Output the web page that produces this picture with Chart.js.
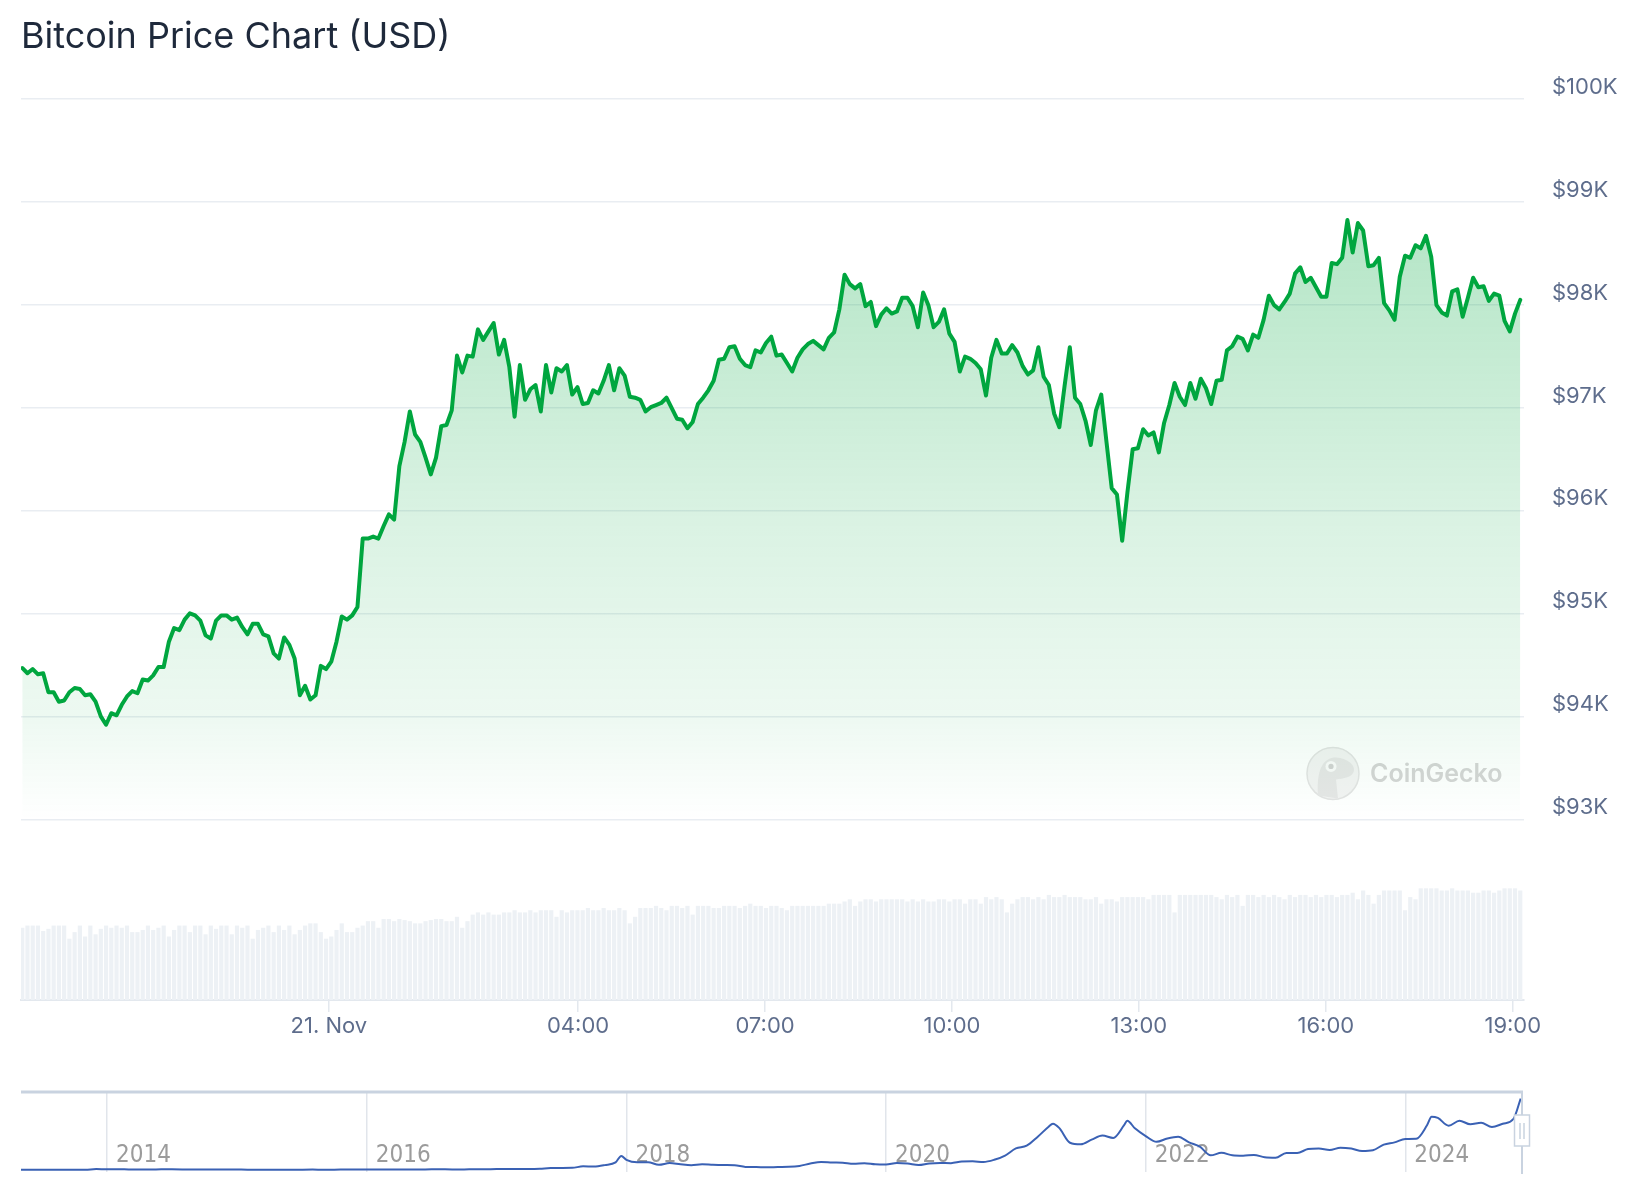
<!DOCTYPE html>
<html>
<head>
<meta charset="utf-8">
<title>Bitcoin Price Chart (USD)</title>
<script src="https://cdn.jsdelivr.net/npm/chart.js@4.4.1/dist/chart.umd.min.js"></script>
<style>
  html, body { margin: 0; padding: 0; background: #fff; }
  body { width: 1644px; height: 1200px; position: relative; overflow: hidden; font-family: Inter, 'Noto Sans', sans-serif; }
  h1 { position: absolute; left: 21px; top: 17px; margin: 0; font-size: 36px; line-height: 36px; font-weight: 400; color: #1e293b; z-index: 2; }
  #priceWrap { position: absolute; left: 0; top: 0; width: 1644px; height: 1075px; }
  #navWrap { position: absolute; left: 0; top: 1072px; width: 1644px; height: 125px; }
</style>
</head>
<body>
<h1>Bitcoin Price Chart (USD)</h1>
<div id="priceWrap"><canvas id="priceChart"></canvas></div>
<div id="navWrap"><canvas id="navChart"></canvas></div>
<script>
// 24h window, hours relative to 21 Nov 00:00
const FIRST_HOUR = -4.92;
const LAST_HOUR = 19.12;

const prices = [
  94474,94423,94464,94413,94423,94239,94239,94147,94158,94239,
  94280,94270,94209,94219,94147,94004,93923,94035,94015,94117,
  94198,94250,94229,94362,94352,94403,94484,94484,94730,94862,
  94842,94944,95005,94985,94934,94791,94760,94934,94985,94985,
  94944,94964,94873,94801,94903,94903,94801,94781,94617,94566,
  94771,94699,94566,94209,94301,94168,94209,94495,94464,94536,
  94730,94975,94944,94985,95067,95731,95731,95751,95731,95853,
  95966,95915,96435,96670,96966,96742,96670,96517,96354,96517,
  96823,96834,96976,97508,97344,97508,97498,97763,97661,97743,
  97824,97518,97661,97395,96915,97416,97079,97181,97222,96966,
  97416,97150,97385,97354,97416,97130,97201,97038,97048,97171,
  97140,97263,97416,97171,97385,97314,97109,97099,97079,96966,
  97007,97028,97048,97099,96997,96895,96885,96803,96864,97038,
  97099,97171,97263,97467,97477,97589,97599,97477,97416,97395,
  97559,97538,97630,97692,97508,97518,97436,97354,97487,97569,
  97620,97651,97610,97569,97681,97733,97957,98294,98202,98161,
  98202,97988,98029,97794,97906,97967,97916,97937,98070,98070,
  97988,97784,98121,97998,97784,97835,97957,97722,97641,97354,
  97498,97477,97436,97375,97120,97487,97661,97528,97528,97610,
  97538,97406,97324,97365,97589,97303,97222,96946,96813,97212,
  97589,97099,97038,96875,96640,96977,97130,96670,96221,96160,
  95710,96180,96599,96609,96793,96732,96762,96568,96854,97028,
  97242,97109,97028,97242,97089,97283,97191,97038,97263,97273,
  97559,97599,97692,97671,97559,97712,97681,97855,98090,97998,
  97957,98029,98110,98304,98366,98223,98264,98172,98080,98080,
  98407,98396,98458,98825,98509,98795,98723,98376,98386,98458,
  98018,97947,97855,98274,98478,98458,98580,98550,98672,98468,
  97998,97927,97896,98131,98151,97886,98070,98264,98172,98182,
  98039,98110,98090,97845,97743,97916,98049
];

// relative trading volume per interval
const volumes = [
  66,68,68,68,63,65,68,68,68,56,
  62,68,58,68,60,65,68,66,68,66,
  68,62,62,64,68,64,66,68,58,64,
  68,68,62,68,68,60,68,65,68,68,
  60,68,66,68,56,64,66,68,62,68,
  64,68,60,64,68,70,70,62,56,58,
  64,70,62,62,66,68,72,72,66,74,
  74,72,74,73,72,70,70,72,73,74,
  74,72,72,76,66,72,78,80,78,80,
  78,78,80,80,82,80,80,82,80,82,
  82,82,76,82,80,82,82,82,84,82,
  82,84,82,82,84,82,70,76,84,84,
  84,86,84,82,86,86,84,86,78,86,
  86,86,84,84,86,86,86,84,86,88,
  86,86,84,86,86,84,82,86,86,86,
  86,86,86,86,88,88,88,90,92,86,
  90,92,92,90,92,92,92,92,92,90,
  92,90,92,90,90,92,92,90,92,92,
  88,92,92,88,94,92,94,92,80,88,
  92,94,94,92,94,92,96,94,94,96,
  94,94,94,92,92,94,88,92,92,90,
  94,94,94,94,94,92,96,96,96,96,
  80,96,96,96,96,96,96,96,94,92,
  96,94,96,86,96,96,94,96,94,96,
  94,92,96,94,96,96,94,96,94,96,
  96,94,96,96,98,92,100,96,88,96,
  100,100,100,100,82,94,92,102,102,102,
  102,100,100,102,100,100,100,98,98,100,
  100,98,100,102,102,102,100
];

const X_TICKS = [0, 4, 7, 10, 13, 16, 19];
const X_TICK_LABELS = ['21. Nov', '04:00', '07:00', '10:00', '13:00', '16:00', '19:00'];
const Y_TICKS = [93000, 94000, 95000, 96000, 97000, 98000, 99000, 100000];

// navigator: monthly prices from May 2013, plus a few extra days
const NAV_START = [2013, 5];
const navMonthly = [
  139,129,97,106,141,133,204,1000,
  770,860,560,460,447,630,640,585,480,390,338,378,
  320,217,255,245,236,230,263,284,230,237,313,378,
  434,369,437,417,448,531,673,624,574,609,701,742,
  998,970,1189,1080,1421,2407,2480,2718,4735,4403,6459,10198,
  13657,10237,10385,6973,9241,7541,6385,7731,7011,6619,6318,4017,
  3747,3458,3854,4105,5351,8574,10818,10080,9630,8299,9199,7567,
  7194,9351,8599,6641,8834,9451,9190,11352,11653,10776,13781,19633,
  29374,33114,45160,58926,57714,37254,35045,41461,47130,43790,61318,57005,
  46311,38483,43194,45538,37714,31792,19927,23337,20050,19423,20495,17168,
  16548,23125,23147,28478,29268,27219,30477,29232,25941,26962,34639,37723,
  42281,42580,61198,71334,60637,67491,62678,64625,58970,63329,70216
];
const navExtraDates = ['2017-12-17', '2021-04-14', '2021-11-10', '2024-03-14', '2024-11-21'];
const navExtraPrices = [19100, 63500, 67500, 73100, 98000];
const NAV_YEARS = [2014, 2016, 2018, 2020, 2022, 2024];

const times = prices.map((_, i) => FIRST_HOUR + i * (LAST_HOUR - FIRST_HOUR) / (prices.length - 1));

function toYear(y, m, d) { return y + (m - 1) / 12 + (d - 1) / 365; }

function navPoints() {
  const pts = navMonthly.map((p, i) => {
    const k = NAV_START[1] - 1 + i;
    return { x: toYear(NAV_START[0] + Math.floor(k / 12), (k % 12) + 1, 1), y: p };
  });
  navExtraDates.forEach((s, i) => {
    const [y, m, d] = s.split('-').map(Number);
    pts.push({ x: toYear(y, m, d), y: navExtraPrices[i] });
  });
  return pts.sort((a, b) => a.x - b.x);
}

function priceFill(ctx) {
  const chart = ctx.chart;
  const { chartArea, scales } = chart;
  if (!chartArea) return 'rgba(0,168,62,0.15)';
  const top = scales.y.getPixelForValue(99000), bot = scales.y.getPixelForValue(93000);
  const g = chart.ctx.createLinearGradient(0, top, 0, bot);
  g.addColorStop(0, 'rgba(0,168,62,0.30)');
  g.addColorStop(0.17, 'rgba(0,168,62,0.25)');
  g.addColorStop(0.5, 'rgba(0,168,62,0.15)');
  g.addColorStop(0.83, 'rgba(0,168,62,0.07)');
  g.addColorStop(1, 'rgba(0,168,62,0)');
  return g;
}

const watermark = {
  id: 'watermark',
  beforeDatasetsDraw(chart) {
    const { ctx, chartArea: a, scales } = chart;
    const cx = a.right - 191, cy = scales.y.getPixelForValue(93450);
    ctx.save();
    ctx.beginPath(); ctx.arc(cx, cy, 26, 0, Math.PI * 2);
    ctx.fillStyle = '#f3f3f3'; ctx.fill();
    ctx.strokeStyle = '#e3e3e3'; ctx.lineWidth = 1.5; ctx.stroke();
    // gecko head
    ctx.beginPath();
    ctx.moveTo(cx - 15, cy + 22);
    ctx.bezierCurveTo(cx - 16, cy + 4, cx - 14, cy - 14, cx + 1, cy - 16);
    ctx.bezierCurveTo(cx + 12, cy - 16, cx + 22, cy - 10, cx + 21, cy - 3);
    ctx.bezierCurveTo(cx + 20, cy + 4, cx + 10, cy + 5, cx + 3, cy + 6);
    ctx.lineTo(cx + 5, cy + 25);
    ctx.closePath();
    ctx.fillStyle = '#e6e6e6'; ctx.fill();
    ctx.beginPath(); ctx.arc(cx - 2, cy - 7, 5.5, 0, Math.PI * 2);
    ctx.fillStyle = '#fafafa'; ctx.fill();
    ctx.beginPath(); ctx.arc(cx - 2, cy - 7, 2.6, 0, Math.PI * 2);
    ctx.fillStyle = '#d2d2d2'; ctx.fill();
    ctx.font = '600 25px Inter, sans-serif';
    ctx.fillStyle = '#d5d5d5';
    ctx.textBaseline = 'middle';
    ctx.fillText('CoinGecko', cx + 37, cy + 1);
    ctx.restore();
  }
};

const navDecor = {
  id: 'navDecor',
  beforeDatasetsDraw(chart) {
    const { ctx, chartArea: a, scales: { x } } = chart;
    ctx.save();
    ctx.font = "24px 'Liberation Sans Narrow', 'DejaVu Sans Condensed', Roboto, sans-serif";
    ctx.fillStyle = '#9b9b9b';
    ctx.textBaseline = 'alphabetic';
    NAV_YEARS.forEach(yr => ctx.fillText(String(yr), x.getPixelForValue(yr) + 9, a.bottom - 10));
    ctx.restore();
  },
  afterDraw(chart) {
    const { ctx, chartArea: a } = chart;
    ctx.save();
    ctx.strokeStyle = '#c9d3e0';
    ctx.lineWidth = 3;
    ctx.beginPath(); ctx.moveTo(a.left, a.top); ctx.lineTo(a.right, a.top); ctx.stroke();
    ctx.lineWidth = 2;
    ctx.beginPath(); ctx.moveTo(a.right - 1, a.top); ctx.lineTo(a.right - 1, a.bottom + 2); ctx.stroke();
    // range handle
    const hx = a.right - 1;
    ctx.fillStyle = '#fff';
    ctx.lineWidth = 1.5;
    ctx.fillRect(hx - 7.5, a.top + 23, 15, 31);
    ctx.strokeRect(hx - 7.5, a.top + 23, 15, 31);
    ctx.beginPath();
    ctx.moveTo(hx - 2, a.top + 31); ctx.lineTo(hx - 2, a.top + 47);
    ctx.moveTo(hx + 2, a.top + 31); ctx.lineTo(hx + 2, a.top + 47);
    ctx.stroke();
    ctx.restore();
  }
};

const priceChart = new Chart(document.getElementById('priceChart'), {
  type: 'line',
  data: {
    datasets: [
      {
        type: 'line', label: 'Price',
        data: times.map((t, i) => ({ x: t, y: prices[i] })),
        yAxisID: 'y',
        borderColor: '#00a63f', borderWidth: 4,
        borderJoinStyle: 'round', borderCapStyle: 'round',
        pointRadius: 0, tension: 0,
        fill: { value: 93000 },
        backgroundColor: priceFill,
        order: 1
      },
      {
        type: 'bar', label: 'Volume',
        data: times.map((t, i) => ({ x: t, y: volumes[i] })),
        yAxisID: 'vol',
        backgroundColor: '#edf1f5', borderWidth: 0,
        barPercentage: 0.8, categoryPercentage: 1,
        order: 2
      }
    ]
  },
  options: {
    responsive: true,
    maintainAspectRatio: false,
    animation: false,
    layout: { padding: { left: 21, top: 99, right: 0, bottom: 0 } },
    plugins: { legend: { display: false }, tooltip: { enabled: false } },
    scales: {
      x: {
        type: 'linear', min: -4.94, max: 19.18, offset: false,
        afterBuildTicks: s => { s.ticks = X_TICKS.map(v => ({ value: v })); },
        afterFit: s => { s.height = 75; },
        grid: { offset: false, drawOnChartArea: false, drawTicks: true, tickLength: 12, color: '#e3e8ee', lineWidth: 1.5 },
        border: { display: true, color: '#e3e8ee', width: 2 },
        ticks: {
          color: '#5e6d8c', font: { family: 'Inter', size: 22 }, padding: 1,
          maxRotation: 0, autoSkip: false,
          callback: v => X_TICK_LABELS[X_TICKS.indexOf(v)]
        }
      },
      y: {
        position: 'right', min: 91250, max: 100000,
        afterBuildTicks: s => { s.ticks = Y_TICKS.map(v => ({ value: v })); },
        afterFit: s => { s.width = 120; },
        grid: { color: '#e9edf2', lineWidth: 1.5, drawTicks: false },
        border: { display: false },
        ticks: {
          color: '#5e6d8c', font: { family: 'Inter', size: 22 },
          padding: 28, labelOffset: -12,
          callback: v => '$' + (v / 1000) + 'K'
        }
      },
      vol: { display: false, min: 0, max: 823 }
    }
  },
  plugins: [watermark]
});

const navChart = new Chart(document.getElementById('navChart'), {
  type: 'line',
  data: {
    datasets: [{
      data: navPoints(),
      borderColor: '#3a61b4', borderWidth: 2,
      pointRadius: 0, cubicInterpolationMode: 'monotone', fill: false
    }]
  },
  options: {
    responsive: true,
    maintainAspectRatio: false,
    animation: false,
    layout: { padding: { left: 21, right: 121, top: 20, bottom: 25 } },
    plugins: { legend: { display: false }, tooltip: { enabled: false } },
    scales: {
      x: {
        type: 'linear', min: 2013.337, max: 2024.906,
        afterBuildTicks: s => { s.ticks = NAV_YEARS.map(v => ({ value: v })); },
        afterFit: s => { s.height = 0; },
        grid: { color: '#e1e5eb', lineWidth: 1.5, drawTicks: false },
        border: { display: false },
        ticks: { display: false }
      },
      y: { display: false, min: -3000, max: 107000 }
    }
  },
  plugins: [navDecor]
});
</script>
</body>
</html>
